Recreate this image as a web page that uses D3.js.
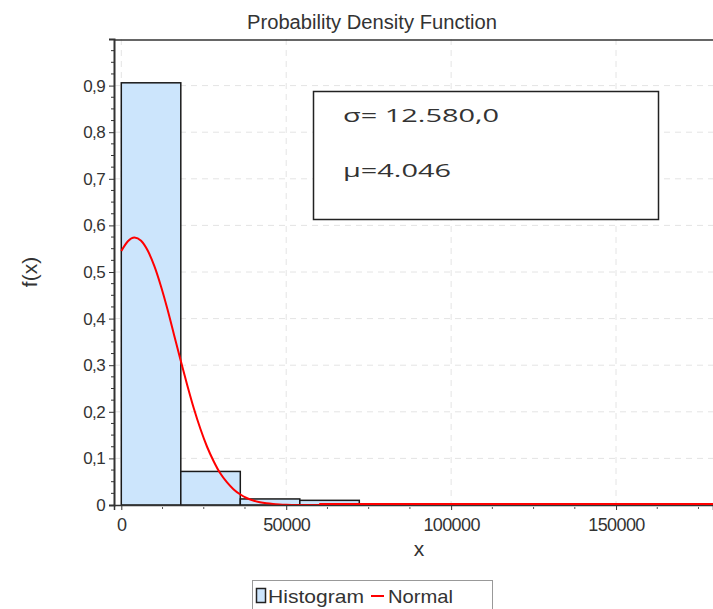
<!DOCTYPE html>
<html>
<head>
<meta charset="utf-8">
<script src="https://cdn.jsdelivr.net/npm/d3@7"></script>
<style>
  html, body { margin: 0; padding: 0; background: #fff; }
  svg { display: block; }
  text { font-family: "Liberation Sans", Arial, sans-serif; fill: #333; }
</style>
</head>
<body>
<svg id="chart" width="713" height="609"></svg>
<script>
// Histogram bins (relative frequency per bin)
const binStarts = [0, 18040, 36080, 54120];
const binEnds   = [18040, 36080, 54120, 72160];
const binValues = [0.906, 0.072, 0.013, 0.010];

// Fitted normal curve, sampled points
const curveX = [0, 2000, 4000, 6000, 8000, 10000, 12000, 14000, 16000, 18000, 20000,
  22000, 24000, 26000, 28000, 30000, 32000, 34000, 36000, 38000, 40000, 42000, 44000,
  46000, 48000, 50000, 54000, 60000, 80000, 120000, 180000];
const curveY = [0.545, 0.566, 0.574, 0.567, 0.546, 0.513, 0.470, 0.420, 0.365, 0.310, 0.257,
  0.207, 0.163, 0.125, 0.094, 0.068, 0.049, 0.034, 0.023, 0.015, 0.0097, 0.0061, 0.0037,
  0.0022, 0.0013, 0.0007, 0.0002, 0.0, 0.0, 0.0, 0.0];

const yTicks = [0, 0.1, 0.2, 0.3, 0.4, 0.5, 0.6, 0.7, 0.8, 0.9];
const xTicks = [0, 50000, 100000, 150000];
const statLines = ["σ= 12.580,0", "μ=4.046"];
const legendLabels = ["Histogram", "Normal"];

const svg = d3.select("#chart");
const plotLeft = 114, plotRight = 713, plotTop = 39, plotBottom = 505;

const x = d3.scaleLinear().domain([-2213, 179400]).range([plotLeft, plotRight]);
const y = d3.scaleLinear().domain([0, 1]).range([plotBottom, plotTop]);

// Grid lines
const grid = svg.append("g").attr("stroke", "#e4e4e4").attr("stroke-dasharray", "6,5").attr("stroke-width", 1);
grid.selectAll("line.h").data(yTicks.filter(d => d > 0)).join("line").attr("class", "h")
  .attr("x1", plotLeft).attr("x2", plotRight).attr("y1", d => y(d)).attr("y2", d => y(d));
grid.selectAll("line.v").data(xTicks).join("line").attr("class", "v")
  .attr("x1", d => x(d)).attr("x2", d => x(d)).attr("y1", plotTop).attr("y2", plotBottom);

// Histogram bars
svg.append("g").selectAll("rect").data(binValues).join("rect")
  .attr("x", (d, i) => x(binStarts[i]))
  .attr("width", (d, i) => x(binEnds[i]) - x(binStarts[i]))
  .attr("y", d => y(d))
  .attr("height", d => y(0) - y(d))
  .attr("fill", "#cce5fc")
  .attr("stroke", "#1a1a1a")
  .attr("stroke-width", 1.5);

// Normal curve
const line = d3.line().x(d => x(d[0])).y(d => y(d[1])).curve(d3.curveMonotoneX);
svg.append("path")
  .datum(curveX.map((v, i) => [v, curveY[i]]))
  .attr("d", line)
  .attr("fill", "none")
  .attr("stroke", "#ff0000")
  .attr("stroke-width", 2);

// Frame: top border
svg.append("line").attr("x1", plotLeft).attr("x2", plotRight).attr("y1", plotTop + 1).attr("y2", plotTop + 1)
  .attr("stroke", "#333").attr("stroke-width", 1.5);

// Y axis
const yAxis = d3.axisLeft(y).tickValues(yTicks).tickSize(5).tickPadding(4)
  .tickFormat(d => d === 0 ? "0" : d3.format(".1f")(d).replace(".", ","));
const gy = svg.append("g").attr("transform", `translate(${plotLeft},0)`).call(yAxis);
gy.select(".domain").attr("stroke", "#333").attr("stroke-width", 2);
gy.selectAll(".tick line").attr("stroke", "#333");
gy.selectAll(".tick text").style("font-size", "17px").attr("fill", "#333").style("letter-spacing", "-0.6px");
// Y minor ticks
const yMinor = d3.range(0, 1.0001, 0.025).filter(v => Math.abs(v * 10 - Math.round(v * 10)) > 1e-6);
svg.append("g").selectAll("line").data(yMinor).join("line")
  .attr("x1", plotLeft - 3).attr("x2", plotLeft).attr("y1", d => y(d)).attr("y2", d => y(d))
  .attr("stroke", "#333");

// X axis
const xAxis = d3.axisBottom(x).tickValues(xTicks).tickSize(5).tickPadding(8).tickFormat(d3.format("d"));
const gx = svg.append("g").attr("transform", `translate(0,${plotBottom})`).call(xAxis);
gx.select(".domain").attr("stroke", "#333").attr("stroke-width", 1.5);
gx.selectAll(".tick line").attr("stroke", "#333");
gx.selectAll(".tick text").style("font-size", "18px").attr("fill", "#333").style("letter-spacing", "-0.6px");
const xMinor = d3.range(12500, 179000, 12500).filter(v => v % 50000 !== 0);
svg.append("g").selectAll("line").data(xMinor).join("line")
  .attr("x1", d => x(d)).attr("x2", d => x(d)).attr("y1", plotBottom + 2).attr("y2", plotBottom + 4)
  .attr("stroke", "#555");

// Red curve tail sits on the axis
svg.append("line").attr("x1", x(60000)).attr("x2", plotRight).attr("y1", plotBottom - 1).attr("y2", plotBottom - 1)
  .attr("stroke", "#ff0000").attr("stroke-width", 2);

// Title and axis titles
svg.append("text").attr("x", 247).attr("y", 29)
  .attr("textLength", 250).attr("lengthAdjust", "spacingAndGlyphs")
  .style("font-size", "20px").text("Probability Density Function");
svg.append("text").attr("x", 419).attr("y", 556).attr("text-anchor", "middle")
  .style("font-size", "21px").text("x");
svg.append("text").attr("transform", "translate(37,272) rotate(-90)").attr("text-anchor", "middle")
  .style("font-size", "21px").text("f(x)");

// Statistics box
svg.append("rect").attr("x", 313.5).attr("y", 91.5).attr("width", 345).attr("height", 128)
  .attr("fill", "#fff").attr("stroke", "#222").attr("stroke-width", 1.5);
const statWidths = [156, 108];
svg.append("g").selectAll("text").data(statLines).join("text")
  .attr("x", 343).attr("y", (d, i) => 122 + i * 55)
  .attr("textLength", (d, i) => statWidths[i]).attr("lengthAdjust", "spacingAndGlyphs")
  .style("font-family", "'Open Sans', sans-serif").style("font-size", "19px").attr("fill", "#222")
  .text(d => d);

// Legend
svg.append("rect").attr("x", 252.5).attr("y", 580.5).attr("width", 240).attr("height", 40)
  .attr("fill", "#fff").attr("stroke", "#999");
svg.append("rect").attr("x", 256.5).attr("y", 588.5).attr("width", 9).attr("height", 14)
  .attr("fill", "#cce5fc").attr("stroke", "#222").attr("stroke-width", 1.5);
svg.append("text").attr("x", 268).attr("y", 603)
  .attr("textLength", 96).attr("lengthAdjust", "spacingAndGlyphs")
  .style("font-size", "19px").attr("fill", "#222").text(legendLabels[0]);
svg.append("line").attr("x1", 371).attr("x2", 384).attr("y1", 596).attr("y2", 596)
  .attr("stroke", "#ff0000").attr("stroke-width", 2);
svg.append("text").attr("x", 388).attr("y", 603)
  .attr("textLength", 65).attr("lengthAdjust", "spacingAndGlyphs")
  .style("font-size", "19px").attr("fill", "#222").text(legendLabels[1]);
</script>
</body>
</html>
